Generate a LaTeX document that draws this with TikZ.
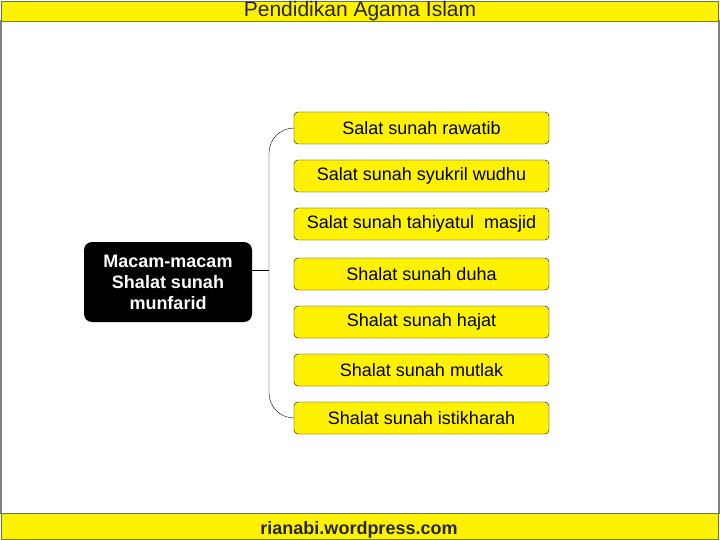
\documentclass[tikz,border=0pt]{standalone}
\usepackage{fontspec}
\setmainfont{Liberation Sans}
\definecolor{kuning}{RGB}{255,242,0}
\definecolor{garis}{RGB}{110,110,90}
\begin{document}
\begin{tikzpicture}[x=1pt, y=-1pt,
                  kotak/.style={draw, fill=yellow, rounded corners=4pt, inner sep=0pt,
                                minimum height=32pt, minimum width=255pt,
                                font=\fontsize{18}{21}\selectfont},
                  induk/.style={fill=black, text=white, rounded corners=8pt, inner sep=0pt,
                                minimum height=80pt, minimum width=168pt, align=center,
                                font=\bfseries\fontsize{18}{21}\selectfont},
                  pita/.style={draw=garis, fill=kuning}]
\useasboundingbox (0,0) rectangle (720,540);
\draw[gray, line width=1.5pt] (1,20) -- (1,514);
\draw[gray, line width=1.5pt] (719,20) -- (719,514);
\draw[pita] (1,1) rectangle (718,21);
\draw[pita] (1,513) rectangle (718,539);
\node[font=\fontsize{21}{24}\selectfont, text=black!85] (judul) at (360,11) {Pendidikan Agama Islam};
\node[font=\bfseries\fontsize{18}{21}\selectfont, text=black!85] (situs) at (359,529.5) {rianabi.wordpress.com};
\node[induk] (utama) at (168,282) {Macam-macam\\Shalat sunah\\munfarid};
\foreach \i/\y/\v in {1/128/Salat sunah rawatib, 2/176/Salat sunah syukril wudhu,
                      3/224/Salat sunah tahiyatul\ \ masjid, 4/274/Shalat sunah duha,
                      5/322/Shalat sunah hajat, 6/370/Shalat sunah mutlak,
                      7/418/Shalat sunah istikharah}
  \node[kotak] (s\i) at (421.5,\y) {\v};
\coordinate (cabang) at (269,270);
\draw (utama.east |- cabang) -- (cabang);
\draw[rounded corners=25pt] (s1.west) -| (cabang) |- (s7.west);
\end{tikzpicture}
\end{document}
